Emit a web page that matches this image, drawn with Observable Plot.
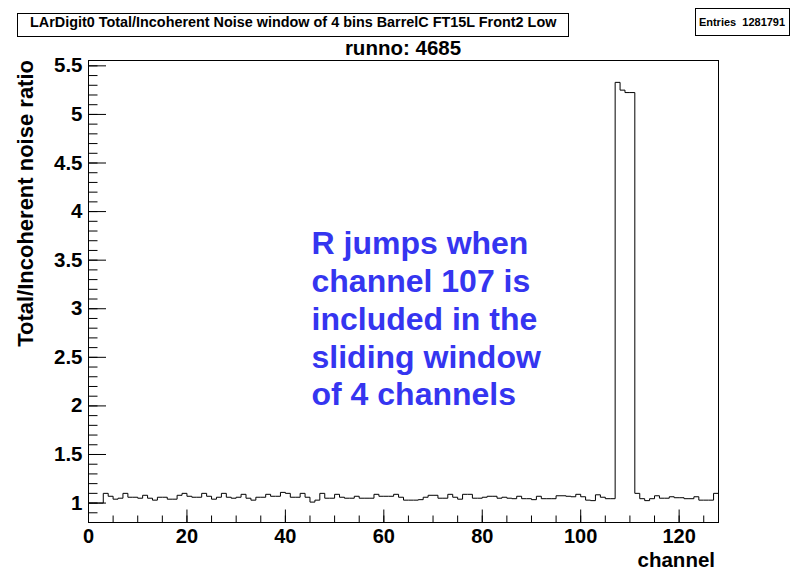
<!DOCTYPE html>
<html><head><meta charset="utf-8">
<script src="https://cdn.jsdelivr.net/npm/d3@7"></script>
<script src="https://cdn.jsdelivr.net/npm/@observablehq/plot@0.6"></script>
<style>html,body{margin:0;padding:0;background:#fff;} svg{display:block}</style>
</head><body><div id="chart"></div>
<script>
// Total/Incoherent noise ratio per channel (bin 0..127)
const ratio = [
  1.00,1.00,1.00,1.10,1.07,1.04,1.05,1.10,1.06,1.06,
  1.05,1.08,1.05,1.03,1.06,1.06,1.04,1.04,1.08,1.10,
  1.07,1.06,1.06,1.10,1.07,1.04,1.06,1.10,1.06,1.05,
  1.06,1.09,1.05,1.03,1.06,1.06,1.09,1.07,1.07,1.11,
  1.10,1.06,1.06,1.10,1.06,1.01,1.03,1.10,1.05,1.05,
  1.09,1.06,1.05,1.05,1.07,1.05,1.05,1.05,1.09,1.07,
  1.07,1.07,1.09,1.06,1.03,1.03,1.03,1.035,1.06,1.08,
  1.08,1.05,1.05,1.09,1.06,1.04,1.09,1.09,1.05,1.05,
  1.06,1.07,1.07,1.05,1.06,1.05,1.045,1.07,1.045,1.045,
  1.035,1.07,1.045,1.045,1.045,1.075,1.075,1.07,1.065,1.09,
  1.065,1.03,1.025,1.085,1.06,1.045,1.045,5.33,5.25,5.225,
  5.225,1.10,1.045,1.025,1.045,1.075,1.05,1.05,1.065,1.055,
  1.055,1.045,1.045,1.065,1.03,1.03,1.03,1.10
];
const xMajorTicks = [0, 20, 40, 60, 80, 100, 120];
const xMinorTicks = [0,5,10,15,20,25,30,35,40,45,50,55,60,65,70,75,80,85,90,95,100,105,110,115,120,125];
const yMajorTicks = [1, 1.5, 2, 2.5, 3, 3.5, 4, 4.5, 5, 5.5];
const yMinorTicks = d3.range(8, 56).map(i => i / 10);
const titleText = "LArDigit0 Total/Incoherent Noise window of 4 bins BarrelC FT15L Front2 Low";
const statsText = "Entries  1281791";
const subtitleText = "runno: 4685";
const xLabel = "channel";
const yLabel = "Total/Incoherent noise ratio";
const annotation = "R jumps when\nchannel 107 is\nincluded in the\nsliding window\nof 4 channels";

const W = 792, H = 573, ML = 88, MR = 74, MT = 60, MB = 51;
const FW = W - ML - MR, FH = H - MT - MB;
const font = "'Liberation Sans', Arial, Helvetica, sans-serif";

const bins = ratio.map((v, i) => ({channel: i, value: v}));
const outline = [...bins, {channel: ratio.length, value: ratio[ratio.length - 1]}];

const plot = Plot.plot({
  width: W, height: H,
  marginLeft: ML, marginRight: MR, marginTop: MT, marginBottom: MB,
  style: {fontFamily: font, background: "#fff", color: "#000", overflow: "visible"},
  x: {domain: [0, 128], label: null},
  y: {domain: [0.8, 5.555], label: null},
  marks: [
    Plot.lineY(outline, {x: "channel", y: "value", curve: "step-after", stroke: "#000", strokeWidth: 1}),
    Plot.ruleY(yMinorTicks, {insetRight: FW - 9.5, stroke: "#000"}),
    Plot.ruleY(yMajorTicks, {insetRight: FW - 18, stroke: "#000"}),
    Plot.ruleX(xMinorTicks, {insetTop: FH - 6.5, stroke: "#000"}),
    Plot.ruleX(xMajorTicks, {insetTop: FH - 12.5, stroke: "#000"}),
    Plot.axisY(yMajorTicks, {tickSize: 0, tickPadding: 6, fontSize: 20.5, fontWeight: "bold", tickFormat: d => String(d), label: null}),
    Plot.axisX(xMajorTicks, {tickSize: 0, tickPadding: 6, fontSize: 20, fontWeight: "bold", label: null}),
    Plot.text([annotation], {frameAnchor: "top-left", dx: 311 - ML, dy: 227 - MT, lineAnchor: "top", textAnchor: "start",
      lineHeight: 1.18, fontSize: 32, fontWeight: "bold", fill: "#3535f0"}),
    Plot.frame({stroke: "#000"})
  ]
});

const svg = d3.select(plot);
// title pave
svg.append("rect").attr("x", 17.5).attr("y", 13.5).attr("width", 551).attr("height", 23)
  .attr("fill", "#fff").attr("stroke", "#000");
svg.append("text").attr("x", 30).attr("y", 26.5).attr("text-anchor", "start").attr("font-size", 14.4).attr("font-weight", "bold")
  .attr("font-family", font).attr("fill", "#000").text(titleText);
// stats pave
svg.append("rect").attr("x", 695.5).attr("y", 8.5).attr("width", 94).attr("height", 27)
  .attr("fill", "#fff").attr("stroke", "#000");
svg.append("text").attr("x", 742).attr("y", 26).attr("text-anchor", "middle").attr("font-size", 11)
  .attr("font-weight", "bold").attr("font-family", font).style("white-space", "pre").attr("fill", "#000").text(statsText);
// subtitle
svg.append("text").attr("x", 403).attr("y", 55).attr("text-anchor", "middle").attr("font-size", 20.5)
  .attr("font-weight", "bold").attr("font-family", font).attr("fill", "#000").text(subtitleText);
// axis titles
svg.append("text").attr("transform", "translate(33,60) rotate(-90)").attr("text-anchor", "end")
  .attr("font-size", 22).attr("font-weight", "bold").attr("font-family", font).attr("fill", "#000").text(yLabel);
svg.append("text").attr("x", 715).attr("y", 567).attr("text-anchor", "end").attr("font-size", 20.5)
  .attr("font-weight", "bold").attr("font-family", font).attr("fill", "#000").text(xLabel);

document.getElementById("chart").appendChild(plot);
</script>
</body></html>
